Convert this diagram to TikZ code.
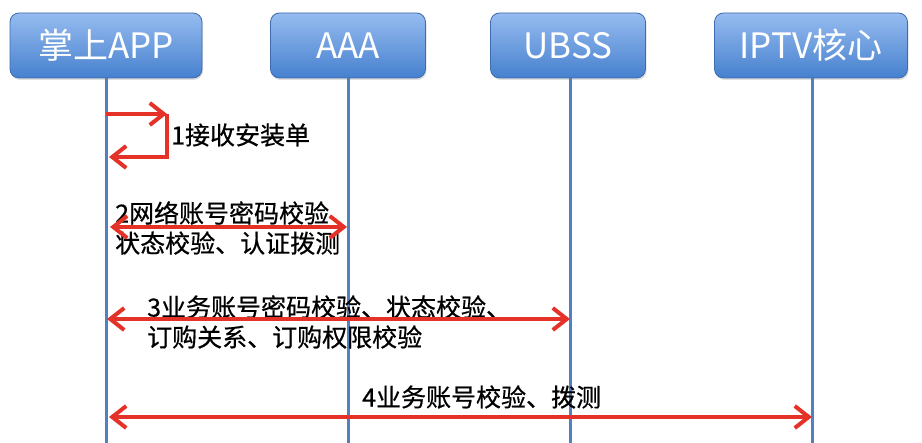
\documentclass[tikz,border=0pt]{standalone}
\usepackage{fontspec}
\setmainfont{Noto Sans CJK SC}
\newfontfamily\lblfont[FakeBold=0.6]{Noto Sans CJK SC}
\usepackage{xcolor}
\usepackage{tikz}
\usetikzlibrary{
    arrows.meta,
    shadows
}
\definecolor{boxtop}{RGB}{150,188,240}
\definecolor{boxbot}{RGB}{70,128,206}
\definecolor{boxline}{RGB}{62,108,176}
\definecolor{lifeblue}{RGB}{82,128,192}
\definecolor{msgred}{RGB}{228,50,40}

\tikzset{
    actor/.style={draw=boxline, line width=0.8pt, rounded corners=9pt,
        top color=boxtop, bottom color=boxbot, text=white,
        minimum height=65pt, inner sep=0pt,
        font=\fontsize{35}{35}\selectfont,
        drop shadow={opacity=0.25, shadow xshift=1pt, shadow yshift=-2pt}},
    life/.style={lifeblue, line width=3pt},
    msg/.style={msgred, line width=4pt, {Straight Barb[length=14pt, width=22pt]}-{Straight Barb[length=14pt, width=22pt]}},
    msgto/.style={msgred, line width=4pt, -{Straight Barb[length=14pt, width=22pt]}},
    lbl/.style={anchor=west, align=left, inner sep=0pt,
        font=\lblfont\fontsize{25}{30}\selectfont}
}

\begin{document}
\begin{tikzpicture}[x=1pt, y=-1pt]
        \useasboundingbox (0,0) rectangle (922,443);

        % lifelines
        \draw (106,443) coordinate(app-end);
        \draw (348,443) coordinate(aaa-end);
        \draw (570,443) coordinate(ubss-end);
        \draw (812,443) coordinate(iptv-end);

        \draw[life] (106,60) -- (app-end);
        \draw[life] (348,60) -- (aaa-end);
        \draw[life] (570,60) -- (ubss-end);
        \draw[life] (812,60) -- (iptv-end);

        \draw (106,45.5) node[actor, minimum width=192pt](app){掌上APP};
        \draw (348,45.5) node[actor, minimum width=155pt](aaa){AAA};
        \draw (568,45.5) node[actor, minimum width=155pt](ubss){UBSS};
        \draw (811,45.5) node[actor, minimum width=193pt](iptv){IPTV核心};

        % 1: self message
        \draw (106,114) coordinate(s1);
        \draw (167,114) coordinate(s2);
        \draw (167,157) coordinate(s3);
        \draw (109,157) coordinate(s4);
        \draw[msgto] (s1) -- (s2);
        \draw[msgto] (s2) -- (s3) -- (s4);
        \draw (171,135) node[lbl](l1){1接收安装单};

        % 2
        \draw (110,227) coordinate(m2a);
        \draw (347,227) coordinate(m2b);
        \draw (115,228) node[lbl](l2){2网络账号密码校验\\状态校验、认证拨测};
        \draw[msg] (m2a) -- (m2b);

        % 3
        \draw (107,319) coordinate(m3a);
        \draw (570,319) coordinate(m3b);
        \draw (147,322) node[lbl](l3){3业务账号密码校验、状态校验、\\订购关系、订购权限校验};
        \draw[msg] (m3a) -- (m3b);

        % 4
        \draw (109,417) coordinate(m4a);
        \draw (812,417) coordinate(m4b);
        \draw (362,397) node[lbl](l4){4业务账号校验、拨测};
        \draw[msg] (m4a) -- (m4b);
\end{tikzpicture}
\end{document}
